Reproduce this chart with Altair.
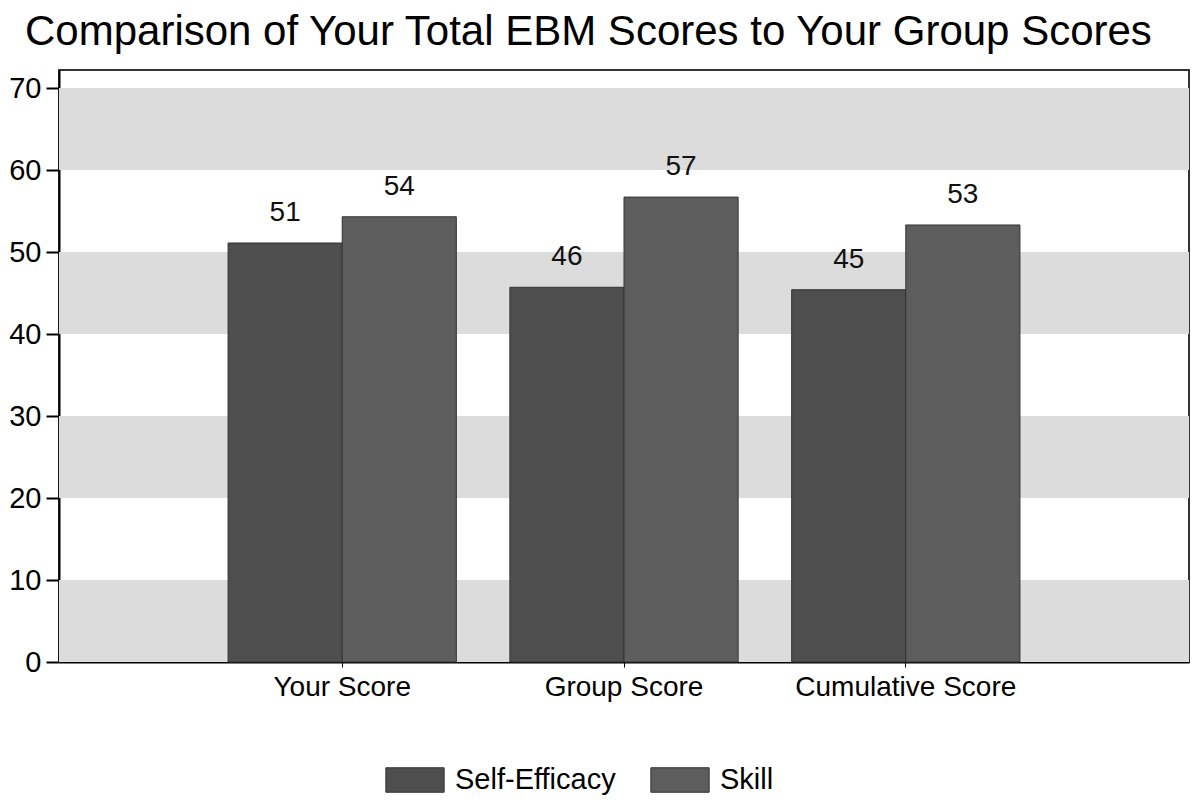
import altair as alt
import pandas as pd

categories = ["Your Score", "Group Score", "Cumulative Score"]
series = ["Self-Efficacy", "Skill"]
self_efficacy = [51.1, 45.7, 45.4]
skill = [54.3, 56.7, 53.3]
self_efficacy_labels = ["51", "46", "45"]
skill_labels = ["54", "57", "53"]
band_starts = [0, 20, 40, 60]
band_ends = [10, 30, 50, 70]
y_ticks = [0, 10, 20, 30, 40, 50, 60, 70]

rows = []
for c, v, l in zip(categories, self_efficacy, self_efficacy_labels):
    rows.append({"category": c, "series": "Self-Efficacy", "value": v, "label": l})
for c, v, l in zip(categories, skill, skill_labels):
    rows.append({"category": c, "series": "Skill", "value": v, "label": l})
df = pd.DataFrame(rows)
bands = pd.DataFrame({"y0": band_starts, "y1": band_ends})

FONT = "Liberation Sans"
yscale = alt.Scale(domain=[0, 72.2], nice=False, zero=True)
xscale = alt.Scale(domain=categories, paddingInner=0.19, paddingOuter=0.6)

band_layer = alt.Chart(bands).mark_rect(color="#dcdcdc").encode(
    y=alt.Y("y0:Q", scale=yscale,
            axis=alt.Axis(values=y_ticks, title=None, labelFontSize=29, labelFont=FONT,
                          labelColor="black", tickSize=13, tickColor="black", tickWidth=2,
                          domainColor="black", domainWidth=2, grid=False, labelPadding=5)),
    y2="y1:Q",
)

bars = alt.Chart(df).mark_bar(stroke="#333333", strokeWidth=1).encode(
    x=alt.X("category:N", scale=xscale, sort=categories,
            axis=alt.Axis(title=None, labelAngle=0, labelFontSize=28, labelFont=FONT,
                          labelColor="black", tickSize=5, tickColor="black", labelLimit=0,
                          domainColor="black", domainWidth=2, labelPadding=6)),
    xOffset=alt.XOffset("series:N", sort=series, scale=alt.Scale(paddingInner=0, paddingOuter=0)),
    y=alt.Y("value:Q", scale=yscale),
    color=alt.Color("series:N", sort=series,
                    scale=alt.Scale(domain=series, range=["#4e4e4e", "#5d5d5d"]),
                    legend=alt.Legend(title=None, orient="none", direction="horizontal",
                                      legendX=326, legendY=680, labelLimit=0,
                                      symbolType="M-1,-0.42H1V0.42H-1Z", symbolSize=3400,
                                      symbolStrokeColor="#333333", symbolStrokeWidth=1,
                                      symbolOpacity=1,
                                      labelFontSize=29, labelFont=FONT, labelColor="black",
                                      labelOffset=10, columnPadding=32)),
)

text = alt.Chart(df).mark_text(baseline="bottom", dy=-16, fontSize=28, font=FONT, color="#111111").encode(
    x=alt.X("category:N", scale=xscale, sort=categories),
    xOffset=alt.XOffset("series:N", sort=series),
    y=alt.Y("value:Q", scale=yscale),
    text="label:N",
)

chart = alt.layer(band_layer, bars, text).properties(
    width=1130,
    height=592,
    background="white",
    title=alt.TitleParams("Comparison of Your Total EBM Scores to Your Group Scores",
                          anchor="start", frame="group", fontSize=42, font=FONT,
                          fontWeight="normal", color="black", dx=-34, offset=16),
    autosize=alt.AutoSizeParams(type="none"),
    padding={"left": 51, "top": 62, "right": 3, "bottom": 135},
).configure_view(stroke="#333333", strokeWidth=2)

chart.save("out.html", embed_options={"renderer": "svg", "actions": False})
